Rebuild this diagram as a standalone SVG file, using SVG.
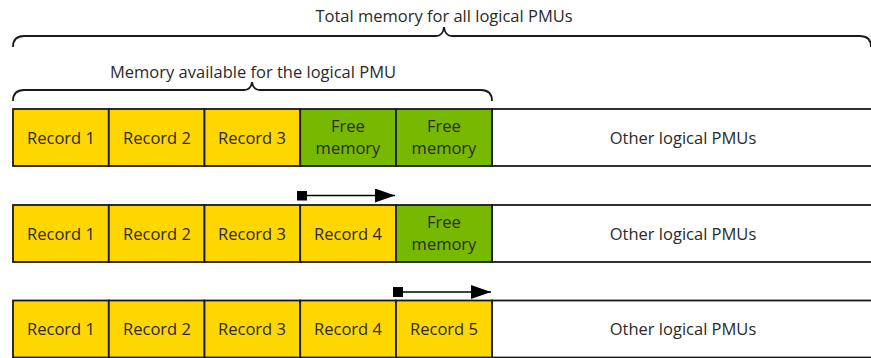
<svg xmlns="http://www.w3.org/2000/svg" width="871" height="358" viewBox="0 0 871 358">
<style>
.rec{fill:#FFD700;stroke:#1a1a1a;stroke-width:1.8}
.free{fill:#76B900;stroke:#1a1a1a;stroke-width:1.8}
.other{fill:#ffffff;stroke:#1a1a1a;stroke-width:1.8}
.t{font-family:"Open Sans","Noto Sans","Liberation Sans",sans-serif;font-size:16.5px;fill:#2a2a2a;text-anchor:middle}
.tb{font-family:"Open Sans","Noto Sans","Liberation Sans",sans-serif;font-size:16.5px;fill:#2a2a2a;text-anchor:middle}
.brace{fill:none;stroke:#1a1a1a;stroke-width:1.8}
.conn{stroke:#000;stroke-width:1.5;fill:none}
</style>
<defs>
<marker id="ah" viewBox="0 0 20 14" refX="20" refY="7" markerWidth="20" markerHeight="14" markerUnits="userSpaceOnUse" orient="auto">
<path d="M0,0 L20,7 L0,14 Z" fill="#000"/>
</marker>
<marker id="sq" viewBox="0 0 10 10" refX="5" refY="5" markerWidth="10" markerHeight="10" markerUnits="userSpaceOnUse" orient="auto">
<rect x="0" y="0" width="10" height="10" fill="#000"/>
</marker>
</defs>

<g id="labels">
<text class="tb" x="444" y="22">Total memory for all logical PMUs</text>
<text class="tb" x="253" y="78">Memory available for the logical PMU</text>
</g>

<g id="braces">
<path class="brace" d="M13,47 Q13,36 24,36 L436,36 Q443,36 444,27 Q445,36 452,36 L860,36 Q871,36 871,47"/>
<path class="brace" d="M13,101 Q13,90 24,90 L244,90 Q251,90 252,82 Q253,90 260,90 L481,90 Q492,90 492,101"/>
</g>

<g id="row1">
<rect class="other" x="492" y="109" width="390" height="57"/>
<rect class="rec" x="13" y="109" width="95.8" height="57"/>
<rect class="rec" x="108.8" y="109" width="95.7" height="57"/>
<rect class="rec" x="204.5" y="109" width="95.7" height="57"/>
<rect class="free" x="300.2" y="109" width="95.8" height="57"/>
<rect class="free" x="396" y="109" width="96" height="57"/>
<text class="t" x="61" y="144">Record 1</text>
<text class="t" x="157" y="144">Record 2</text>
<text class="t" x="252" y="144">Record 3</text>
<text class="t" x="348" y="132">Free</text>
<text class="t" x="348" y="154">memory</text>
<text class="t" x="444" y="132">Free</text>
<text class="t" x="444" y="154">memory</text>
<text class="t" x="683" y="144">Other logical PMUs</text>
</g>

<g id="row2">
<rect class="other" x="492" y="205" width="390" height="57"/>
<rect class="rec" x="13" y="205" width="95.8" height="57"/>
<rect class="rec" x="108.8" y="205" width="95.7" height="57"/>
<rect class="rec" x="204.5" y="205" width="95.7" height="57"/>
<rect class="rec" x="300.2" y="205" width="95.8" height="57"/>
<rect class="free" x="396" y="205" width="96" height="57"/>
<text class="t" x="61" y="240">Record 1</text>
<text class="t" x="157" y="240">Record 2</text>
<text class="t" x="252" y="240">Record 3</text>
<text class="t" x="348" y="240">Record 4</text>
<text class="t" x="444" y="228">Free</text>
<text class="t" x="444" y="250">memory</text>
<text class="t" x="683" y="240">Other logical PMUs</text>
</g>

<g id="row3">
<rect class="other" x="492" y="300.5" width="390" height="57"/>
<rect class="rec" x="13" y="300.5" width="95.8" height="57"/>
<rect class="rec" x="108.8" y="300.5" width="95.7" height="57"/>
<rect class="rec" x="204.5" y="300.5" width="95.7" height="57"/>
<rect class="rec" x="300.2" y="300.5" width="95.8" height="57"/>
<rect class="rec" x="396" y="300.5" width="96" height="57"/>
<text class="t" x="61" y="335">Record 1</text>
<text class="t" x="157" y="335">Record 2</text>
<text class="t" x="252" y="335">Record 3</text>
<text class="t" x="348" y="335">Record 4</text>
<text class="t" x="444" y="335">Record 5</text>
<text class="t" x="683" y="335">Other logical PMUs</text>
</g>

<g id="connectors">
<line class="conn" x1="302" y1="195.5" x2="395" y2="195.5" marker-start="url(#sq)" marker-end="url(#ah)"/>
<line class="conn" x1="398" y1="292" x2="491" y2="292" marker-start="url(#sq)" marker-end="url(#ah)"/>
</g>
</svg>
